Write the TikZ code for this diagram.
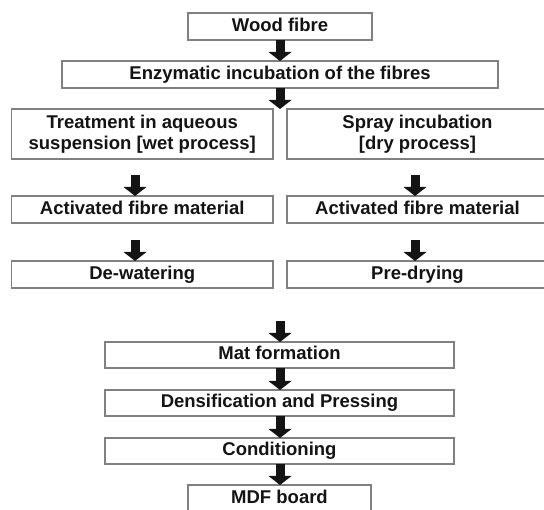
\documentclass[tikz,border=0pt]{standalone}
\usepackage{fontspec}
\setmainfont{Liberation Sans}
\usetikzlibrary{arrows.meta,calc}
\begin{document}
\begin{tikzpicture}[x=1pt,y=-1pt,
  boxbase/.style={draw=black!50, line width=1.3pt, fill=white, inner sep=0pt, outer sep=0pt,
    font=\bfseries\fontsize{18.5}{21.5}\selectfont, text=black!92},
  box/.style={boxbase, text height=13.5pt, text depth=3.9pt},
  twobox/.style={boxbase, align=center},
  flow/.style={line width=9pt, draw=black!92,
    -{Triangle[width=23pt,length=9pt,line width=0pt]}}]
\useasboundingbox (0,0) rectangle (544,510);
\clip (0,0) rectangle (544,510);
% nodes
\node[box, minimum width=184pt, minimum height=27pt] (wood) at (280,26.5) {Wood fibre};
\node[box, minimum width=436pt, minimum height=27pt] (enz) at (280,74.5) {Enzymatic incubation of the fibres};
\node[twobox, minimum width=261.5pt, minimum height=50pt] (treat) at (142.25,134) {Treatment in aqueous\\suspension [wet process]};
\node[twobox, minimum width=261pt, minimum height=50pt] (spray) at (417.5,134) {Spray incubation\\{}[dry process]};
\node[box, minimum width=261.5pt, minimum height=27pt] (actL) at (142.25,209.5) {Activated fibre material};
\node[box, minimum width=261pt, minimum height=27pt] (actR) at (417.5,209.5) {Activated fibre material};
\node[box, minimum width=261.5pt, minimum height=27pt] (dew) at (142.25,274.5) {De-watering};
\node[box, minimum width=261pt, minimum height=27pt] (pre) at (417.5,274.5) {Pre-drying};
\node[box, minimum width=349pt, minimum height=26pt] (mat) at (279.5,355) {Mat formation};
\node[box, minimum width=349pt, minimum height=26pt] (dens) at (279.5,403) {Densification and Pressing};
\node[box, minimum width=349pt, minimum height=26pt] (cond) at (279.5,451) {Conditioning};
\node[box, minimum width=183pt, minimum height=27pt] (mdf) at (279.5,498.5) {MDF board};
% free ends and column axes
\coordinate (split) at (280,109);
\coordinate (axL) at (135,0);
\coordinate (axR) at (415,0);
\coordinate (merge) at (280,321);
% connectors
\draw[flow] (wood.south -| split) -- (enz.north -| split);
\draw[flow] (enz.south -| split) -- (split);
\draw[flow] ($(treat.south -| axL)+(0,16)$) -- (actL.north -| axL);
\draw[flow] ($(spray.south -| axR)+(0,16)$) -- (actR.north -| axR);
\draw[flow] ($(actL.south -| axL)+(0,17)$) -- (dew.north -| axL);
\draw[flow] ($(actR.south -| axR)+(0,17)$) -- (pre.north -| axR);
\draw[flow] (merge) -- (mat.north -| merge);
\draw[flow] (mat.south -| merge) -- (dens.north -| merge);
\draw[flow] (dens.south -| merge) -- (cond.north -| merge);
\draw[flow] (cond.south -| merge) -- (mdf.north -| merge);
\end{tikzpicture}
\end{document}
